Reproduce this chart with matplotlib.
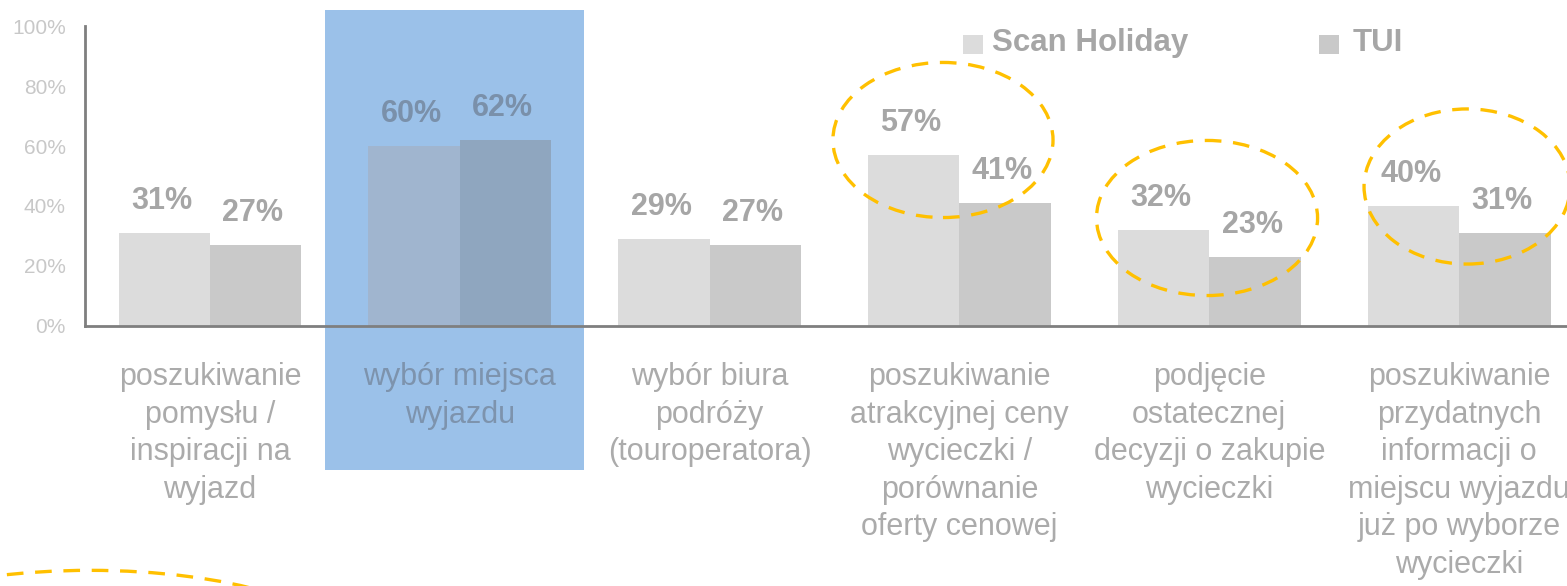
import matplotlib
matplotlib.use("Agg")
import matplotlib.pyplot as plt
from matplotlib.patches import Rectangle, Ellipse
import matplotlib.transforms as mtrans
import numpy as np

plt.rcParams['font.family'] = ['Liberation Sans', 'DejaVu Sans']

categories = [
    "poszukiwanie\npomysłu /\ninspiracji na\nwyjazd",
    "wybór miejsca\nwyjazdu",
    "wybór biura\npodróży\n(touroperatora)",
    "poszukiwanie\natrakcyjnej ceny\nwycieczki /\nporównanie\noferty cenowej",
    "podjęcie\nostatecznej\ndecyzji o zakupie\nwycieczki",
    "poszukiwanie\nprzydatnych\ninformacji o\nmiejscu wyjazdu\njuż po wyborze\nwycieczki",
]
series_names = ["Scan Holiday", "TUI"]
scan_holiday = [31, 60, 29, 57, 32, 40]
tui = [27, 62, 27, 41, 23, 31]
yticks = [0, 20, 40, 60, 80, 100]
highlighted = 1
circled = [3, 4, 5]

W, H = 1567, 586
fig = plt.figure(figsize=(W / 100, H / 100), dpi=100)
ax_left = 85.1 / W
ax_right = 1584.0 / W
ax_bottom = 1 - 326 / H
ax_top = 1 - 26 / H
ax = fig.add_axes([ax_left, ax_bottom, ax_right - ax_left, ax_top - ax_bottom])
ax.set_facecolor('none')

x = np.arange(len(categories))
bw = 0.366
c_scan = '#DCDCDC'
c_tui = '#C9C9C9'
c_scan_hl = '#A0B5CF'
c_tui_hl = '#8FA6BF'
lbl_col = '#A6A6A6'
lbl_col_hl = '#7A90AA'

cols_scan = [c_scan_hl if i == highlighted else c_scan for i in x]
cols_tui = [c_tui_hl if i == highlighted else c_tui for i in x]
b1 = ax.bar(x - bw / 2, scan_holiday, bw, color=cols_scan, zorder=2)
b2 = ax.bar(x + bw / 2, tui, bw, color=cols_tui, zorder=2)

# highlight rectangle
blend = mtrans.blended_transform_factory(ax.transData, ax.transAxes)
rect = Rectangle((highlighted - 0.5396, -0.48), 1.0368, 1.533, transform=blend,
                 facecolor='#9BC1E9', edgecolor='none', zorder=0.5, clip_on=False)
ax.add_patch(rect)

# data labels
for bars, vals in [(b1, scan_holiday), (b2, tui)]:
    for i, (b, v) in enumerate(zip(bars, vals)):
        ax.annotate(f"{v}%", (b.get_x() + b.get_width() / 2, v),
                    xytext=(-2, 23), textcoords='offset points',
                    ha='center', va='center', fontsize=22, fontweight='bold',
                    color=lbl_col_hl if i == highlighted else lbl_col, zorder=4)

# category labels
for i, c in enumerate(categories):
    ax.annotate(c, (i, 0), xytext=(0, -26), textcoords='offset points',
                ha='center', va='top', fontsize=22, linespacing=1.33,
                color='#7D93AD' if i == highlighted else '#ABABAB',
                annotation_clip=False, zorder=4)

ax.set_xlim(-0.5, len(categories) - 0.5)
ax.set_ylim(0, 100)
ax.set_yticks(yticks)
ax.set_yticklabels([f"{t}%" for t in yticks])
ax.set_xticks([])
ax.tick_params(axis='y', length=0, pad=14, labelsize=15, labelcolor='#C8C8C8')
for s in ['top', 'right']:
    ax.spines[s].set_visible(False)
for s in ['left', 'bottom']:
    ax.spines[s].set_color('#7F7F7F')
    ax.spines[s].set_linewidth(2)
    ax.spines[s].set_zorder(3)

# dashed ellipses
ell_specs = [(3, -0.066, 62, 0.881), (4, -0.009, 36, 0.885), (5, 0.032, 46.5, 0.825)]
for gi, dxo, yc, w in ell_specs:
    e = Ellipse((gi + dxo, yc), w, 51.7, fill=False, edgecolor='#FFC000',
                linewidth=2.4, linestyle=(0, (5, 3.5)), zorder=5, clip_on=False)
    ax.add_patch(e)
e = Ellipse((-0.48, -107.3), 2.026, 51.7, fill=False, edgecolor='#FFC000',
            linewidth=2.4, linestyle=(0, (5, 3.5)), zorder=5, clip_on=False)
ax.add_patch(e)

# legend (manual)
leg_items = [(series_names[0], c_scan, 963, 992), (series_names[1], c_tui, 1319, 1353)]
for name, col, sx, tx in leg_items:
    fig.patches.append(Rectangle((sx / W, 1 - 54 / H), 20 / W, 19 / H,
                                 transform=fig.transFigure, facecolor=col,
                                 edgecolor='none'))
    fig.text(tx / W, 1 - 43 / H, name, ha='left', va='center', fontsize=22.5,
             fontweight='bold', color=lbl_col)

fig.savefig('out.png', dpi=100)
